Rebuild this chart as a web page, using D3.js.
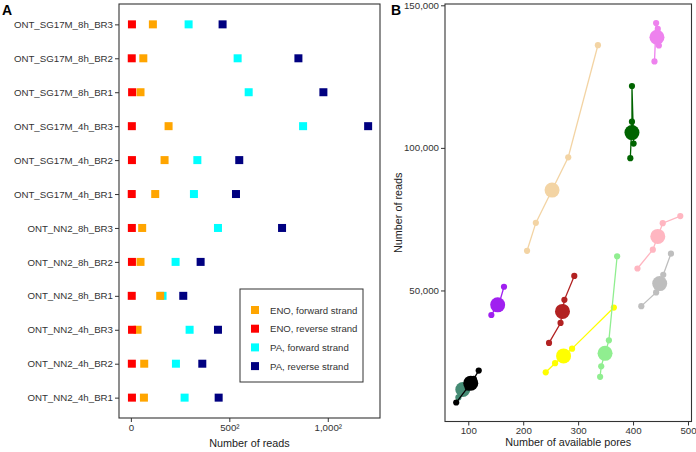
<!DOCTYPE html>
<html><head><meta charset="utf-8">
<script src="https://cdn.jsdelivr.net/npm/d3@7"></script>
<style>body{margin:0;background:#fff}svg{display:block;font-family:"Liberation Sans",Arial,sans-serif}</style>
</head><body><svg id="c" width="696" height="452"></svg>
<script>
// ---------- Panel A data ----------
const samples = ["ONT_SG17M_8h_BR3","ONT_SG17M_8h_BR2","ONT_SG17M_8h_BR1","ONT_SG17M_4h_BR3","ONT_SG17M_4h_BR2","ONT_SG17M_4h_BR1","ONT_NN2_8h_BR3","ONT_NN2_8h_BR2","ONT_NN2_8h_BR1","ONT_NN2_4h_BR3","ONT_NN2_4h_BR2","ONT_NN2_4h_BR1"];
const enoForward = [12500, 4000, 2400, 36700, 29300, 15300, 3300, 2400, 22200, 1150, 4600, 4400];
const enoReverse = [30, 20, 40, 25, 30, 20, 25, 30, 20, 35, 25, 30];
const paForward  = [86000, 294000, 358000, 765000, 114000, 102600, 195700, 51600, 25900, 89000, 52400, 74500];
const paReverse  = [217000, 724000, 956000, 1452000, 303000, 285000, 589500, 125500, 70800, 195700, 131600, 198800];
const seriesNames = ["ENO, forward strand","ENO, reverse strand","PA, forward strand","PA, reverse strand"];
const seriesColors = ["#FFA500","#FF0000","#00FFFF","#000080"];
const xTickValuesA = [0, 250000, 1000000];
const xTickLabelsA = ["0", "500\u00B2", "1,000\u00B2"];

// ---------- Panel B data ----------
const poreGroups = ["g1","g2","g3","g4","g5","g6","g7","g8","g9","g10","g11"];
const groupColors = ["#458B74","#000000","#A020F0","#B22222","#FFFF00","#90EE90","#F3D4A4","#006400","#EE82EE","#FFB6C1","#BEBEBE"];
const pores = [
  [82, 86, 94, 100],
  [78, 99, 110, 119],
  [142, 150, 157, 165],
  [247, 268, 275, 293],
  [241, 258, 289, 365],
  [340, 342, 356, 371],
  [207, 223, 282, 336],
  [395, 401, 398, 398],
  [439, 442, 445, 447],
  [408, 436, 454, 486],
  [415, 442, 455, 469]
];
const reads = [
  [12500, 14000, 16500, 18000],
  [10700, 16000, 19000, 21900],
  [41400, 43900, 46000, 51300],
  [31600, 38600, 46700, 55100],
  [21300, 24500, 29600, 44000],
  [19700, 23400, 32500, 62000],
  [63900, 73700, 96700, 136000],
  [96400, 101500, 109200, 121700],
  [130300, 143800, 141700, 135900],
  [57700, 64300, 73600, 76100],
  [44500, 49300, 55500, 62900]
];
const yTickValuesB = [50000, 100000, 150000];
const xTickValuesB = [100, 200, 300, 400, 500];

const svg = d3.select("#c");
const textCol = "#333";
const tickFont = "9.7px";

// ================= Panel A =================
const A = {l: 119, r: 380, t: 4, b: 418};
const maxA = d3.max([...enoForward, ...enoReverse, ...paForward, ...paReverse]);
const padA = (A.r - A.l) * 0.05 / 1.1;
const xA = d3.scaleSqrt().domain([0, maxA]).range([A.l + padA, A.r - padA]);
const yA = d3.scalePoint().domain(samples).range([A.t, A.b]).padding(0.6);

const gA = svg.append("g");
gA.append("rect").attr("x", A.l).attr("y", A.t).attr("width", A.r - A.l).attr("height", A.b - A.t)
  .attr("fill", "none").attr("stroke", "#333").attr("stroke-width", 1.1);

const axYA = gA.append("g").attr("transform", `translate(${A.l},0)`)
  .call(d3.axisLeft(yA).tickSize(4).tickPadding(2));
const axXA = gA.append("g").attr("transform", `translate(0,${A.b})`)
  .call(d3.axisBottom(xA).tickValues(xTickValuesA).tickFormat((d, i) => xTickLabelsA[i]).tickSize(4).tickPadding(2));
[axYA, axXA].forEach(ax => {
  ax.select(".domain").remove();
  ax.selectAll(".tick line").attr("stroke", "#333");
  ax.selectAll(".tick text").attr("fill", textCol).style("font-size", tickFont).style("font-family", "Liberation Sans, Arial, sans-serif");
});

const seriesData = [paForward, paReverse, enoForward, enoReverse];
const seriesIdx = [2, 3, 0, 1];
const sq = 8;
seriesData.forEach((arr, k) => {
  gA.append("g").selectAll("rect").data(arr).join("rect")
    .attr("x", d => xA(d) - sq / 2)
    .attr("y", (d, i) => yA(samples[i]) - sq / 2)
    .attr("width", sq).attr("height", sq)
    .attr("fill", seriesColors[seriesIdx[k]]);
});

gA.append("text").attr("x", (A.l + A.r) / 2).attr("y", 447).attr("text-anchor", "middle")
  .attr("fill", "#222").style("font-size", "10.8px").text("Number of reads");
gA.append("text").attr("x", 2).attr("y", 15).attr("fill", "#000")
  .style("font-size", "14px").style("font-weight", "bold").text("A");

// legend
const L = {x: 240, y: 289, w: 123, h: 93};
gA.append("rect").attr("x", L.x).attr("y", L.y).attr("width", L.w).attr("height", L.h)
  .attr("fill", "#fff").attr("stroke", "#333").attr("stroke-width", 1);
seriesNames.forEach((n, i) => {
  const cy = L.y + 21 + i * 18.7;
  gA.append("rect").attr("x", 255 - sq / 2).attr("y", cy - sq / 2).attr("width", sq).attr("height", sq).attr("fill", seriesColors[i]);
  gA.append("text").attr("x", 270).attr("y", cy + 3.5).attr("fill", textCol).style("font-size", "9.6px").text(n);
});

// ================= Panel B =================
const B = {l: 445, r: 691.5, t: 4, b: 421.5};
const allX = pores.flat(), allY = reads.flat();
const ex = d3.extent(allX), ey = d3.extent(allY);
const dx = (ex[1] - ex[0]) * 0.05, dy = (ey[1] - ey[0]) * 0.05;
const xB = d3.scaleLinear().domain([ex[0] - dx, ex[1] + dx]).range([B.l, B.r]);
const yB = d3.scaleLinear().domain([ey[0] - dy, ey[1] + dy]).range([B.b, B.t]);

const gB = svg.append("g");
gB.append("rect").attr("x", B.l).attr("y", B.t).attr("width", B.r - B.l).attr("height", B.b - B.t)
  .attr("fill", "none").attr("stroke", "#333").attr("stroke-width", 1.1);
const axYB = gB.append("g").attr("transform", `translate(${B.l},0)`)
  .call(d3.axisLeft(yB).tickValues(yTickValuesB).tickFormat(d3.format(",")).tickSize(4).tickPadding(2));
const axXB = gB.append("g").attr("transform", `translate(0,${B.b})`)
  .call(d3.axisBottom(xB).tickValues(xTickValuesB).tickSize(4).tickPadding(2));
[axYB, axXB].forEach(ax => {
  ax.select(".domain").remove();
  ax.selectAll(".tick line").attr("stroke", "#333");
  ax.selectAll(".tick text").attr("fill", textCol).style("font-size", tickFont).style("font-family", "Liberation Sans, Arial, sans-serif");
});

const line = d3.line().x(d => xB(d[0])).y(d => yB(d[1]));
poreGroups.forEach((g, gi) => {
  const pts = pores[gi].map((p, j) => [p, reads[gi][j]]);
  const sorted = pts.slice().sort((a, b) => a[0] - b[0]);
  const col = groupColors[gi];
  const grp = gB.append("g");
  grp.append("path").attr("d", line(sorted)).attr("fill", "none").attr("stroke", col).attr("stroke-width", 1.3);
  grp.selectAll("circle.s").data(pts).join("circle").attr("class", "s")
    .attr("cx", d => xB(d[0])).attr("cy", d => yB(d[1])).attr("r", 3.1).attr("fill", col);
  grp.append("circle").attr("cx", xB(d3.median(pores[gi]))).attr("cy", yB(d3.median(reads[gi])))
    .attr("r", 7.5).attr("fill", col);
});

gB.append("text").attr("x", (B.l + B.r) / 2).attr("y", 446).attr("text-anchor", "middle")
  .attr("fill", "#222").style("font-size", "10.8px").text("Number of available pores");
gB.append("text").attr("transform", `translate(402,${(B.t + B.b) / 2}) rotate(-90)`).attr("text-anchor", "middle")
  .attr("fill", "#222").style("font-size", "10.8px").text("Number of reads");
gB.append("text").attr("x", 391).attr("y", 15).attr("fill", "#000")
  .style("font-size", "14px").style("font-weight", "bold").text("B");
</script></body></html>
